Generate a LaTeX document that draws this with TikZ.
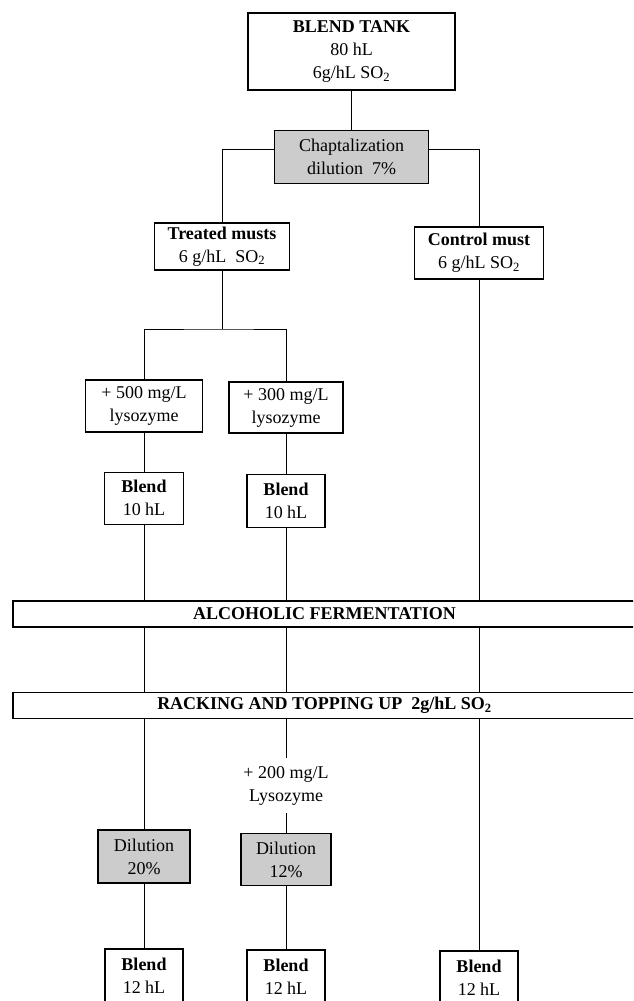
\documentclass[tikz,border=0pt]{standalone}
\usepackage{fontspec}
\setmainfont{Liberation Serif}
\usetikzlibrary{positioning, backgrounds, calc}
\newcommand{\SOtwo}{SO\textsubscript{2}}
\tikzset{
    font=\fontsize{18}{23}\selectfont,
    % Boxes
    box/.style={rectangle, draw=black, line width=1.2pt, fill=white, align=center, inner sep=2pt},
    boxGray/.style={box, fill=black!20},
    bar/.style={box, minimum width=623pt, minimum height=26pt, font=\fontsize{18}{23}\selectfont\bfseries},
    % Flow & Labels
    flow/.style={line width=0.9pt, black},
    lbl/.style={align=center, inner sep=0pt, minimum height=55pt}
}
\begin{document}
\begin{tikzpicture}[x=1pt, y=-1pt]
\useasboundingbox (0,0) rectangle (633,1001);
\clip (0,0) rectangle (633,1001);

\node[box, minimum width=207pt, minimum height=77pt] (tank) at (351.5,51.5) {\textbf{BLEND TANK}\\80 hL\\6g/hL \SOtwo};
\node[boxGray, minimum width=154pt, minimum height=53pt, below=39pt of tank] (chapt) {Chaptalization\\dilution~~7\%};

\node[box, minimum width=135pt, minimum height=47pt] (treated) at (222,246.5) {\textbf{Treated musts}\\6 g/hL~~\SOtwo};
\node[box, minimum width=129pt, minimum height=52pt] (control) at (479,253) {\textbf{Control must}\\6 g/hL \SOtwo};
\coordinate (split) at (222,329);

\node[box, minimum width=117pt, minimum height=52pt] (lysoA) at (144,406) {+ 500 mg/L\\lysozyme};
\node[box, minimum width=114pt, minimum height=51pt] (lysoB) at (286,407.5) {+ 300 mg/L\\lysozyme};
\node[box, minimum width=79pt, minimum height=52pt, below=39pt of lysoA] (blendA) {\textbf{Blend}\\10 hL};
\node[box, minimum width=78pt, minimum height=53pt, below=40pt of lysoB] (blendB) {\textbf{Blend}\\10 hL};

\node[bar] (ferm) at (324.5,614) {ALCOHOLIC FERMENTATION};
\node[bar] (rack) at (324.5,705.5) {RACKING AND TOPPING UP~~2g/hL \SOtwo};

\node[lbl] (lysoAdd) at (286,785.5) {+ 200 mg/L\\Lysozyme};
\node[boxGray, minimum width=92pt, minimum height=53pt] (dilA) at (144,856.5) {Dilution\\20\%};
\node[boxGray, minimum width=90pt, minimum height=52pt, below=20pt of lysoAdd] (dilB) {Dilution\\12\%};

\node[box, minimum width=78pt, minimum height=54pt] (endA) at (144,976) {\textbf{Blend}\\12 hL};
\node[box, minimum width=78pt, minimum height=54pt] (endB) at (286,977) {\textbf{Blend}\\12 hL};
\node[box, minimum width=78pt, minimum height=54pt] (endC) at (479,978) {\textbf{Blend}\\12 hL};

\begin{scope}[on background layer]
\draw[flow] (tank) -- (chapt);
\draw[flow] ([yshift=7.5pt]chapt.west) -| (treated);
\draw[flow] ([yshift=7.5pt]chapt.east) -| (control);
\draw[flow] (treated) -- (split);
\draw[flow] (lysoA) |- (split) -| (lysoB);
\draw[flow] (lysoA) -- (blendA);
\draw[flow] (lysoB) -- (blendB);
\draw[flow] (blendA) -- (dilA);
\draw[flow] (blendB) -- (lysoAdd);
\draw[flow] (lysoAdd) -- (dilB);
\draw[flow] (dilA) -- (endA);
\draw[flow] (dilB) -- (endB);
\draw[flow] (control) -- (endC);
\end{scope}
\end{tikzpicture}
\end{document}
